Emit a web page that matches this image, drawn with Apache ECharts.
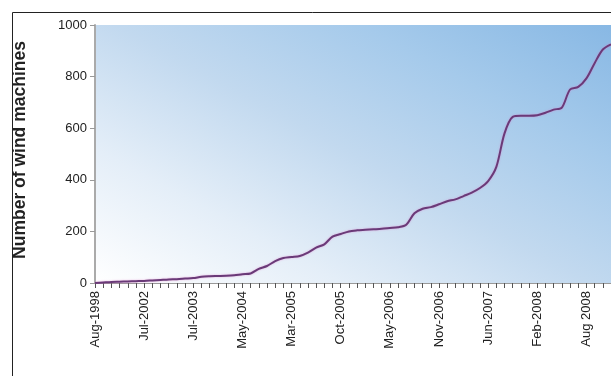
<!DOCTYPE html>
<html>
<head>
<meta charset="utf-8">
<script src="https://cdn.jsdelivr.net/npm/echarts@6/dist/echarts.min.js"></script>
<style>
  html, body { margin: 0; padding: 0; background: #fff; }
  #chart { width: 611px; height: 376px; }
</style>
</head>
<body>
<div id="chart"></div>
<script>
// labelled dates, one every 6 entries
const tickLabels = ['Aug-1998', 'Jul-2002', 'Jul-2003', 'May-2004', 'Mar-2005', 'Oct-2005',
  'May-2006', 'Nov-2006', 'Jun-2007', 'Feb-2008', 'Aug 2008']
const labelStep = 6

// cumulative number of wind machines
const machines = [
  0, 2, 4, 5, 6, 7, 8, 10, 12, 14,
  15, 17, 19, 24, 26, 27, 28, 30, 34, 37,
  55, 66, 85, 97, 101, 105, 118, 137, 150, 180,
  190, 200, 204, 206, 208, 210, 213, 216, 226, 270,
  288, 294, 305, 317, 324, 337, 350, 368, 395, 450,
  580, 644, 648, 648, 650, 660, 672, 680, 750, 760,
  793, 852, 905, 925
]

const yTicks = { min: 0, max: 1000, interval: 200 }

// entries between the labelled dates have no label
const categories = machines.map((v, i) => (i % labelStep === 0 ? tickLabels[i / labelStep] || '' : ''))

const chart = echarts.init(document.getElementById('chart'))

chart.setOption({
  animation: false,
  textStyle: { fontFamily: 'Liberation Sans, Arial, sans-serif' },
  graphic: [{
    type: 'rect',
    left: 10,
    top: 10,
    shape: { width: 700, height: 500 },
    style: { fill: 'none', stroke: '#222', lineWidth: 1 },
    silent: true
  }],
  grid: {
    left: 95,
    top: 25,
    width: 516,
    bottom: 93,
    show: true,
    borderWidth: 0,
    // white in the lower left, blue towards the upper right
    backgroundColor: new echarts.graphic.LinearGradient(0, 1, 0.436, -0.61, [
      { offset: 0, color: '#ffffff' },
      { offset: 0.25, color: '#e4eef8' },
      { offset: 0.5, color: '#c2d9ef' },
      { offset: 0.75, color: '#a5caeb' },
      { offset: 1, color: '#88b8e4' }
    ])
  },
  xAxis: {
    type: 'category',
    data: categories,
    boundaryGap: false,
    axisLine: { lineStyle: { color: '#999', width: 1 } },
    axisTick: { show: true, interval: 0, length: 5, lineStyle: { color: '#555' } },
    axisLabel: {
      interval: labelStep - 1,
      rotate: 90,
      color: '#222',
      fontSize: 13,
      margin: 8
    },
    splitLine: { show: false }
  },
  yAxis: {
    type: 'value',
    min: yTicks.min,
    max: yTicks.max,
    interval: yTicks.interval,
    name: 'Number of wind machines',
    nameLocation: 'middle',
    nameGap: 66,
    nameTextStyle: { color: '#222', fontSize: 17.5, fontWeight: 'bold', padding: [0, 0, 0, 8] },
    axisLine: { show: true, lineStyle: { color: '#aaa', width: 2 } },
    axisTick: { show: true, length: 5, lineStyle: { color: '#999' } },
    axisLabel: { color: '#222', fontSize: 13, margin: 8, formatter: v => String(v) },
    splitLine: { show: false }
  },
  series: [{
    type: 'line',
    data: machines,
    smooth: 0.3,
    showSymbol: false,
    lineStyle: {
      color: '#6a3a78',
      width: 2,
      shadowColor: 'rgba(220, 120, 200, 0.6)',
      shadowBlur: 2
    }
  }]
})
</script>
</body>
</html>
